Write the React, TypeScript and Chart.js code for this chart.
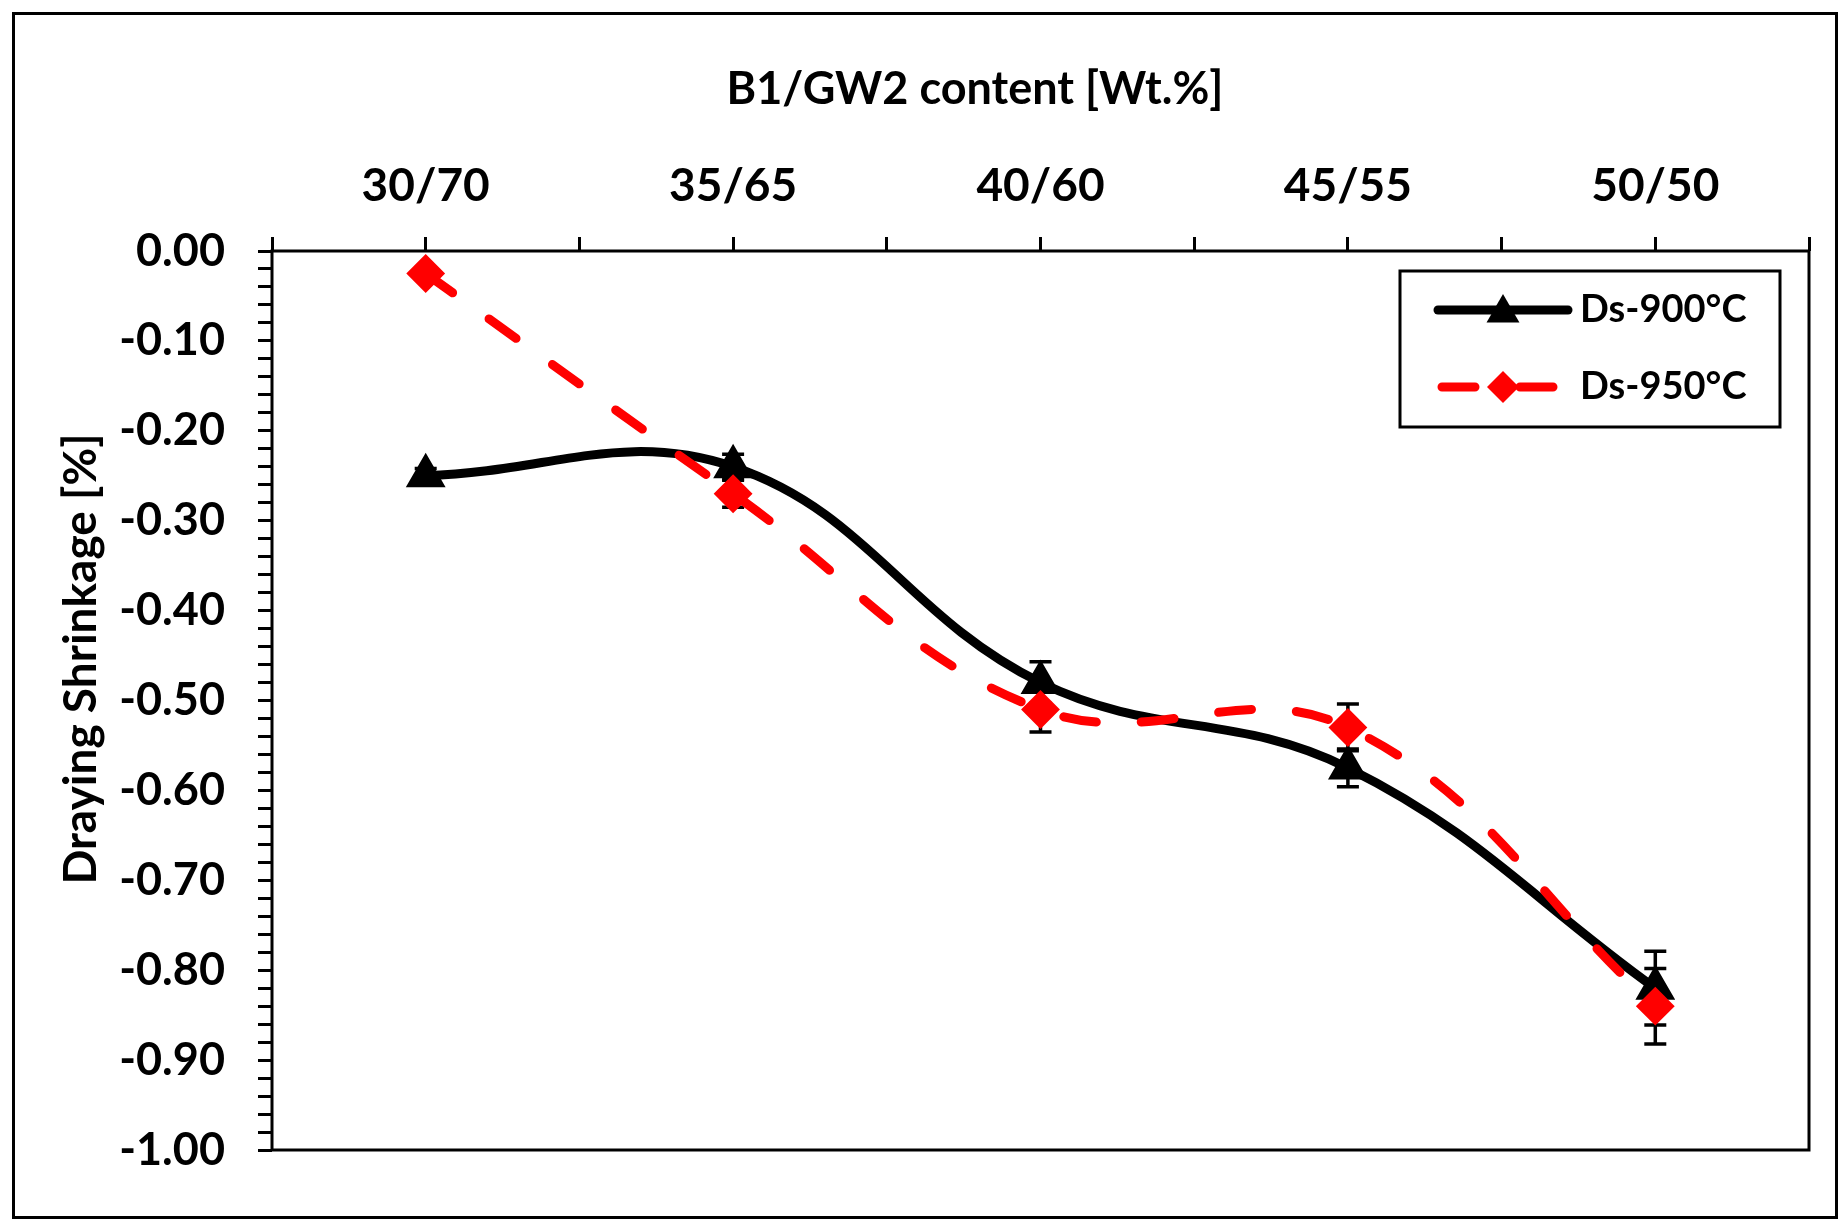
import React, { useEffect, useRef } from "react";
import { Chart, registerables } from "chart.js";

Chart.register(...registerables);

// values
const categories = ["30/70", "35/65", "40/60", "45/55", "50/50"];
const ds900 = [-0.25, -0.24, -0.48, -0.575, -0.82];
const ds900Err = [0.008, 0.014, 0.023, 0.021, 0.041];
const ds950 = [-0.025, -0.27, -0.51, -0.53, -0.84];
const ds950Err = [0.005, 0.015, 0.025, 0.026, 0.042];
const seriesNames = ["Ds-900°C", "Ds-950°C"];
const xTitle = "B1/GW2 content [Wt.%]";
const yTitle = "Draying Shrinkage [%]";

const FONT = "Lato, 'Noto Sans', sans-serif";
const RED = "#ff0000";

const W = 1848;
const H = 1229;

function drawMarker(ctx: CanvasRenderingContext2D, style: string, x: number, y: number, r: number) {
  ctx.beginPath();
  if (style === "triangle") {
    for (let k = 0; k < 3; k++) {
      const a = (k * 2 * Math.PI) / 3;
      const px = x + Math.sin(a) * r;
      const py = y - Math.cos(a) * r;
      if (k === 0) ctx.moveTo(px, py);
      else ctx.lineTo(px, py);
    }
  } else {
    ctx.moveTo(x - r, y);
    ctx.lineTo(x, y - r);
    ctx.lineTo(x + r, y);
    ctx.lineTo(x, y + r);
  }
  ctx.closePath();
  ctx.fill();
}

// white page + outer frame
const framePlugin = {
  id: "frame",
  beforeDraw(chart: any) {
    const ctx = chart.ctx;
    ctx.save();
    ctx.fillStyle = "#fff";
    ctx.fillRect(0, 0, chart.width, chart.height);
    ctx.lineWidth = 3;
    ctx.strokeStyle = "#000";
    ctx.strokeRect(13.5, 13.5, chart.width - 25, chart.height - 25);
    ctx.restore();
  },
};

// vertical error bars, drawn under the lines and markers
const errorBarPlugin = {
  id: "errorBars",
  beforeDatasetsDraw(chart: any) {
    const ctx = chart.ctx;
    const y = chart.scales.y;
    const errs = [ds900Err, ds950Err];
    ctx.save();
    ctx.strokeStyle = "#000";
    ctx.lineWidth = 3.5;
    chart.data.datasets.forEach((ds: any, i: number) => {
      const meta = chart.getDatasetMeta(i);
      meta.data.forEach((pt: any, j: number) => {
        const v = ds.data[j].y;
        const e = errs[i][j];
        const y1 = y.getPixelForValue(v + e);
        const y2 = y.getPixelForValue(v - e);
        ctx.beginPath();
        ctx.moveTo(pt.x, y1);
        ctx.lineTo(pt.x, y2);
        ctx.moveTo(pt.x - 11, y1);
        ctx.lineTo(pt.x + 11, y1);
        ctx.moveTo(pt.x - 11, y2);
        ctx.lineTo(pt.x + 11, y2);
        ctx.stroke();
      });
    });
    ctx.restore();
  },
};

// plot box, axis titles and the boxed legend
const decorPlugin = {
  id: "decor",
  afterDraw(chart: any) {
    const ctx = chart.ctx;
    const { left, right, top, bottom } = chart.chartArea;
    ctx.save();
    ctx.strokeStyle = "#000";
    ctx.lineWidth = 3;
    ctx.strokeRect(left, top, right - left, bottom - top);

    ctx.fillStyle = "#000";
    ctx.font = `bold 45px ${FONT}`;
    ctx.textAlign = "center";
    ctx.textBaseline = "alphabetic";
    ctx.fillText(xTitle, 975, 104);

    ctx.save();
    ctx.translate(96, 659);
    ctx.rotate(-Math.PI / 2);
    ctx.font = `bold 46px ${FONT}`;
    ctx.fillText(yTitle, 0, 0);
    ctx.restore();

    // legend
    const lx = right - 29 - 380;
    const ly = top + 20;
    ctx.lineWidth = 3;
    ctx.strokeRect(lx, ly, 380, 156);
    const rows = [ly + 39, ly + 116];
    chart.data.datasets.forEach((ds: any, i: number) => {
      const ry = rows[i];
      ctx.save();
      ctx.strokeStyle = ds.borderColor;
      ctx.fillStyle = ds.borderColor;
      ctx.lineWidth = 9;
      ctx.lineCap = "round";
      ctx.setLineDash(ds.borderDash || []);
      ctx.beginPath();
      if (ds.borderDash) {
        ctx.moveTo(lx + 42, ry);
        ctx.lineTo(lx + 164, ry);
      } else {
        ctx.moveTo(lx + 38, ry);
        ctx.lineTo(lx + 168, ry);
      }
      ctx.stroke();
      ctx.setLineDash([]);
      const tri = ds.pointStyle === "triangle";
      drawMarker(ctx, ds.pointStyle, lx + 103, tri ? ry + 3 : ry, tri ? 19 : 16);
      ctx.restore();
      ctx.font = `bold 38px ${FONT}`;
      ctx.textAlign = "left";
      ctx.textBaseline = "middle";
      ctx.fillStyle = "#000";
      ctx.fillText(ds.label, lx + 180, ry);
    });
    ctx.restore();
  },
};

const isMajor = (v: number) => Math.abs(v * 10 - Math.round(v * 10)) < 1e-6;

export default function App() {
  const canvasRef = useRef<HTMLCanvasElement>(null);

  useEffect(() => {
    if (!canvasRef.current) return;
    const chart = new Chart(canvasRef.current, {
      type: "line",
      data: {
        datasets: [
          {
            label: seriesNames[0],
            data: categories.map((_, i) => ({ x: i, y: ds900[i] })),
            borderColor: "#000",
            backgroundColor: "#000",
            borderWidth: 9,
            borderCapStyle: "round",
            borderJoinStyle: "round",
            tension: 0.4,
            pointStyle: "triangle",
            pointRadius: 21,
            pointBorderWidth: 2,
            pointBackgroundColor: "#000",
            pointBorderColor: "#000",
            order: 1,
          },
          {
            label: seriesNames[1],
            data: categories.map((_, i) => ({ x: i, y: ds950[i] })),
            borderColor: RED,
            backgroundColor: RED,
            borderWidth: 9,
            borderDash: [33, 45],
            borderCapStyle: "round",
            borderJoinStyle: "round",
            tension: 0.4,
            pointStyle: "rectRot",
            pointRadius: 18,
            pointBorderWidth: 2,
            pointBackgroundColor: RED,
            pointBorderColor: RED,
            order: 0,
          },
        ],
      } as any,
      options: {
        animation: false,
        responsive: false,
        devicePixelRatio: 1,
        layout: { padding: { left: 0, top: 0, right: 39, bottom: 79 } },
        plugins: {
          legend: { display: false },
          tooltip: { enabled: false },
        },
        scales: {
          x: {
            type: "linear",
            position: "top",
            min: -0.5,
            max: 4.5,
            afterFit: (s: any) => {
              s.height = 251;
            },
            border: { display: false },
            grid: {
              drawOnChartArea: false,
              drawTicks: true,
              tickLength: 14,
              tickWidth: 3,
              color: "#000",
            },
            ticks: {
              stepSize: 0.5,
              autoSkip: false,
              maxRotation: 0,
              maxTicksLimit: 100,
              padding: 23,
              color: "#000",
              font: { family: FONT, size: 46, weight: "bold" },
              callback: (v: any) => (Number.isInteger(v) ? categories[v] : ""),
            },
          },
          y: {
            type: "linear",
            position: "left",
            min: -1,
            max: 0,
            afterFit: (s: any) => {
              s.width = 272;
            },
            border: { display: false },
            grid: {
              drawOnChartArea: false,
              drawTicks: true,
              tickLength: 14,
              tickWidth: 3,
              color: "#000",
            },
            ticks: {
              stepSize: 0.02,
              autoSkip: false,
              maxTicksLimit: 100,
              padding: 33,
              color: "#000",
              font: { family: FONT, size: 45, weight: "bold" },
              callback: (v: any) => (isMajor(v) ? Number(v).toFixed(2) : ""),
            },
          },
        },
      } as any,
      plugins: [framePlugin, errorBarPlugin, decorPlugin],
    });
    return () => chart.destroy();
  }, []);

  return (
    <div style={{ position: "absolute", left: 0, top: 0, width: W, height: H, background: "#fff" }}>
      <canvas ref={canvasRef} width={W} height={H} style={{ display: "block" }} />
    </div>
  );
}
